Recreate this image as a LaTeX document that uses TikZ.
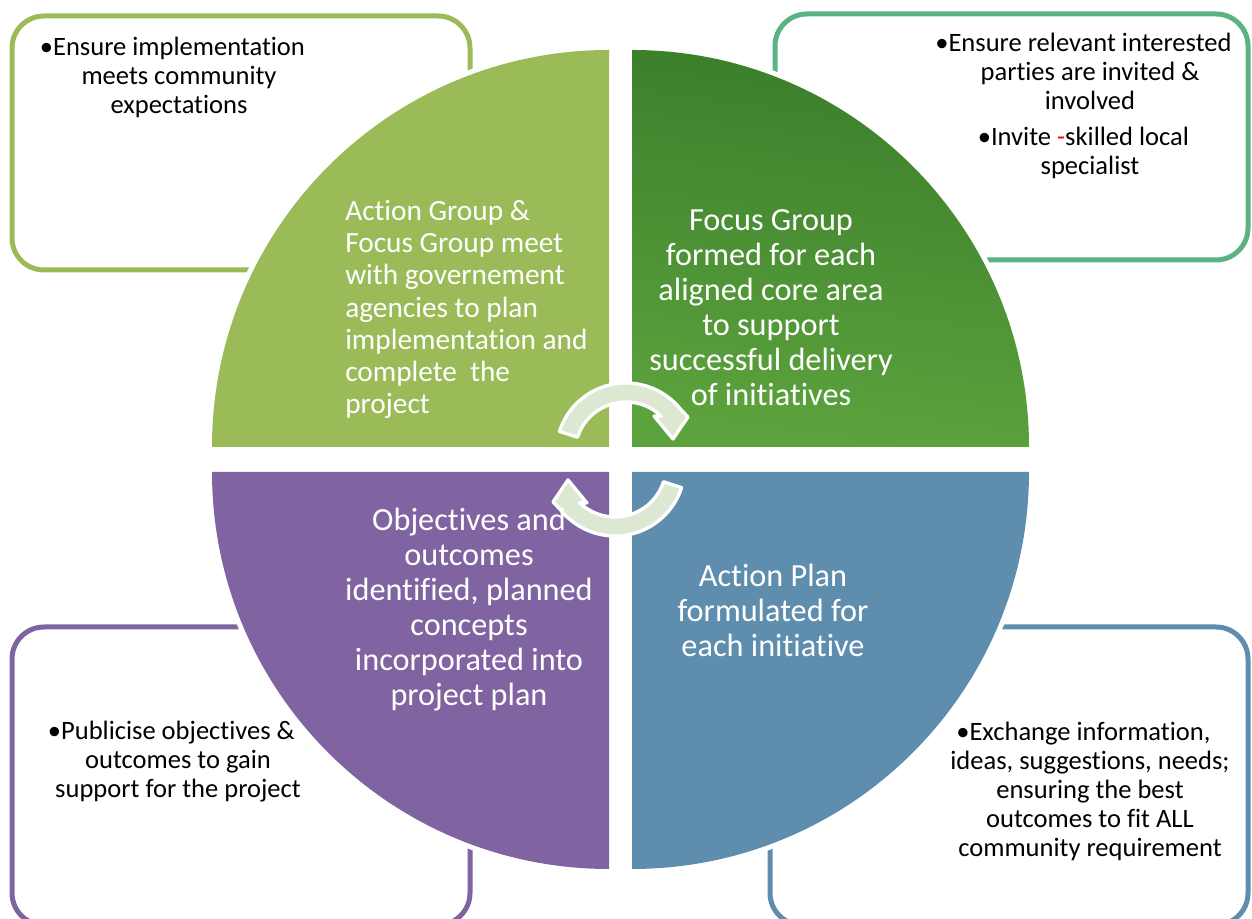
\documentclass[tikz,border=0pt]{standalone}
\usepackage{fontspec}
\setmainfont{Carlito}[Ligatures=NoCommon]
\definecolor{cTL}{HTML}{9BBB59}
\definecolor{cTRbox}{HTML}{5AB380}
\definecolor{cBL}{HTML}{8064A2}
\definecolor{cBR}{HTML}{5F8DAE}
\definecolor{cTRtop}{HTML}{3A7D2B}
\definecolor{cTRmid}{HTML}{9CBC6C}
\definecolor{cTRbot}{HTML}{5DA33D}
\definecolor{cArrow}{HTML}{DDE8D3}
\begin{document}
\begin{tikzpicture}[x=0.75pt,y=0.75pt,
  infobox/.style={rounded corners=24pt, line width=3.75pt},
  halo/.style={draw=white, line width=7.5pt},
  boxtext/.style={font=\fontsize{19.9}{21.75}\selectfont, align=center, inner sep=0pt, text=black},
  quadtext/.style={font=\fontsize{24.2}{26.25}\selectfont, align=center, inner sep=0pt, text=white},
  arrowband/.style={fill=cArrow, draw=white, line width=2.5pt, line join=round}]

\useasboundingbox (0,0) rectangle (1252,919);
\clip (0,0) rectangle (1252,919);

% outer boxes
\draw[infobox, cTL] (12,649) rectangle (470,903);
\draw[infobox, cTRbox] (775,659) rectangle (1248,905);
\draw[infobox, cBL] (12,-6) rectangle (470,292);
\draw[infobox, cBR] (770,-6) rectangle (1248,292);

% quadrants
\fill[cTL, preaction={halo}] (609,472) -- ++(-397,0) arc[start angle=180,end angle=90,radius=397] -- cycle;
\shade[preaction={halo}, top color=cTRtop, middle color=cTRmid, bottom color=cTRbot, shading angle=-8]
  (632,472) -- ++(0,397) arc[start angle=90,end angle=0,radius=397] -- cycle;
\fill[cBR, preaction={halo}] (632,447) -- ++(397,0) arc[start angle=0,end angle=-90,radius=397] -- cycle;
\fill[cBL, preaction={halo}] (609,447) -- ++(0,-397) arc[start angle=270,end angle=180,radius=397] -- cycle;

% circular arrows
\path[arrowband] ([shift={(162:70)}]626,466) arc[start angle=162,end angle=38,radius=70]
  -- (688,502) -- (673,480) -- (654,503)
  -- ([shift={(46:51)}]626,466) arc[start angle=46,end angle=162,radius=51] -- cycle;
\path[arrowband] ([shift={(342:70)}]615,453) arc[start angle=342,end angle=218,radius=70]
  -- (553,417) -- (568,439) -- (587,416)
  -- ([shift={(226:51)}]615,453) arc[start angle=226,end angle=342,radius=51] -- cycle;

% quadrant texts
\node[quadtext, align=left, anchor=west, font=\fontsize{22}{24.15}\selectfont] (tlq) at (345,609.5)
  {Action Group \&\\Focus Group meet\\with governement\\agencies to plan\\implementation and\\complete\ \ the\\project};
\node[quadtext] (trq) at (771,611)
  {Focus Group\\formed for each\\aligned core area\\to support\\successful delivery\\of initiatives};
\node[quadtext] (blq) at (469,309)
  {Objectives and\\outcomes\\identified, planned\\concepts\\incorporated into\\project plan};
\node[quadtext] (brq) at (773,308.5)
  {Action Plan\\formulated for\\each initiative};

% box texts
\node[boxtext] (tlt) at (179,841.5)
  {\llap{\textbullet}Ensure implementation\\meets community\\expectations};
\node[boxtext] (trt) at (1090,813)
  {\llap{\textbullet}Ensure relevant interested\\parties are invited \&\\involved\\[5pt]\llap{\textbullet}Invite {\color{red}-}skilled local\\specialist};
\node[boxtext] (blt) at (178,157.5)
  {\llap{\textbullet}Publicise objectives \&\\outcomes to gain\\support for the project};
\node[boxtext] (brt) at (1090,128)
  {\llap{\textbullet}Exchange information,\\ideas, suggestions, needs;\\ensuring the best\\outcomes to fit ALL\\community requirement};
\end{tikzpicture}
\end{document}
